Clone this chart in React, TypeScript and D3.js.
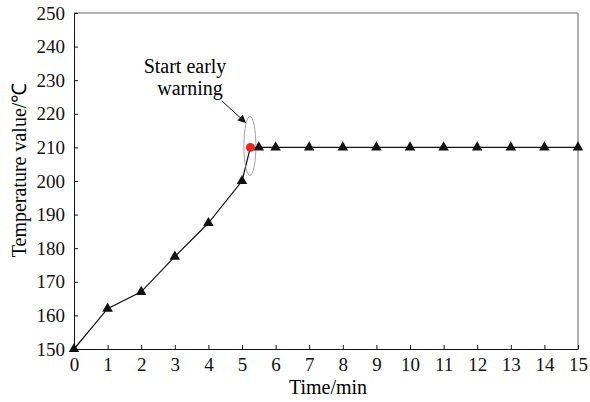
import React, { useEffect, useRef } from 'react';
import * as d3 from 'd3';

// time (min) and temperature (°C)
const times = [0, 1, 2, 3, 4, 5, 5.25, 5.5, 6, 7, 8, 9, 10, 11, 12, 13, 14, 15];
const temps = [150, 162, 167, 177.5, 187.5, 200, 210, 210, 210, 210, 210, 210, 210, 210, 210, 210, 210, 210];
const warnIndex = 6; // the red point where early warning starts
const xTicks = d3.range(0, 16);
const yTicks = d3.range(150, 251, 10);
const annotation = ['Start early', 'warning'];

const App = () => {
  const ref = useRef<SVGSVGElement>(null);

  useEffect(() => {
    const margin = { top: 13, right: 12, bottom: 53, left: 74 };
    const width = 590 - margin.left - margin.right;
    const height = 402 - margin.top - margin.bottom;
    const font = '"Liberation Serif", "Times New Roman", serif';

    const svg = d3.select(ref.current);
    svg.selectAll('*').remove();

    const g = svg.append('g').attr('transform', `translate(${margin.left},${margin.top})`);

    const x = d3.scaleLinear().domain([0, 15]).range([0, width]);
    const y = d3.scaleLinear().domain([150, 250]).range([height, 0]);

    // frame: top and right in gray
    g.append('line').attr('x1', 0).attr('x2', width).attr('y1', 0).attr('y2', 0).attr('stroke', '#666');
    g.append('line').attr('x1', width).attr('x2', width).attr('y1', 0).attr('y2', height).attr('stroke', '#666');

    const xAxis = g
      .append('g')
      .attr('transform', `translate(0,${height})`)
      .call(d3.axisBottom(x).tickValues(xTicks).tickSizeInner(-4).tickSizeOuter(0).tickPadding(9));
    const yAxis = g
      .append('g')
      .call(d3.axisLeft(y).tickValues(yTicks).tickSizeInner(-4).tickSizeOuter(0).tickPadding(9));

    [xAxis, yAxis].forEach((a) => {
      a.select('.domain').attr('stroke', '#111');
      a.selectAll('line').attr('stroke', '#111');
      a.selectAll('text').attr('font-family', font).attr('font-size', 19).attr('fill', '#111');
    });

    // axis titles
    svg
      .append('text')
      .attr('x', margin.left + width / 2 + 2)
      .attr('y', 394)
      .attr('text-anchor', 'middle')
      .attr('font-family', font)
      .attr('font-size', 20)
      .text('Time/min');
    svg
      .append('text')
      .attr('transform', `translate(26,170) rotate(-90)`)
      .attr('text-anchor', 'middle')
      .attr('font-family', font)
      .attr('font-size', 20)
      .text('Temperature value/℃');

    const pts = times.map((t, i) => [t, temps[i]] as [number, number]);
    const line = d3
      .line<[number, number]>()
      .x((d) => x(d[0]))
      .y((d) => y(d[1]));

    g.append('path').datum(pts).attr('d', line).attr('fill', 'none').attr('stroke', '#111').attr('stroke-width', 1.2);

    // warning ellipse
    g.append('ellipse')
      .attr('cx', x(times[warnIndex]) - 0.5)
      .attr('cy', y(temps[warnIndex]) - 1.5)
      .attr('rx', 6)
      .attr('ry', 29.5)
      .attr('fill', 'none')
      .attr('stroke', '#888')
      .attr('stroke-width', 0.8);

    // triangle markers
    const tri = d3.symbol().type(d3.symbolTriangle).size(48);
    g.selectAll('path.tri')
      .data(pts.filter((_, i) => i !== warnIndex))
      .enter()
      .append('path')
      .attr('class', 'tri')
      .attr('d', tri)
      .attr('transform', (d) => `translate(${x(d[0])},${y(d[1])})`)
      .attr('fill', '#111');

    g.append('circle')
      .attr('cx', x(times[warnIndex]))
      .attr('cy', y(temps[warnIndex]))
      .attr('r', 4.5)
      .attr('fill', '#e8261e');

    // annotation text and arrow
    svg
      .append('defs')
      .append('marker')
      .attr('id', 'arrow')
      .attr('viewBox', '0 0 10 10')
      .attr('refX', 10)
      .attr('refY', 5)
      .attr('markerWidth', 8)
      .attr('markerHeight', 8)
      .attr('markerUnits', 'userSpaceOnUse')
      .attr('orient', 'auto')
      .append('path')
      .attr('d', 'M0,0 L10,5 L0,10 Z')
      .attr('fill', '#111');

    svg
      .append('line')
      .attr('x1', 222)
      .attr('y1', 101)
      .attr('x2', 246)
      .attr('y2', 123)
      .attr('stroke', '#111')
      .attr('stroke-width', 1)
      .attr('marker-end', 'url(#arrow)');

    svg
      .append('text')
      .attr('font-family', font)
      .attr('font-size', 20)
      .attr('text-anchor', 'middle')
      .selectAll('tspan')
      .data(annotation)
      .enter()
      .append('tspan')
      .attr('x', (_, i) => (i === 0 ? 185 : 190))
      .attr('y', (_, i) => 73 + i * 22)
      .text((d) => d);
  }, []);

  return (
    <svg
      ref={ref}
      width={590}
      height={402}
      style={{ position: 'absolute', left: 0, top: 0, background: '#fff' }}
    ></svg>
  );
};

export default App;
